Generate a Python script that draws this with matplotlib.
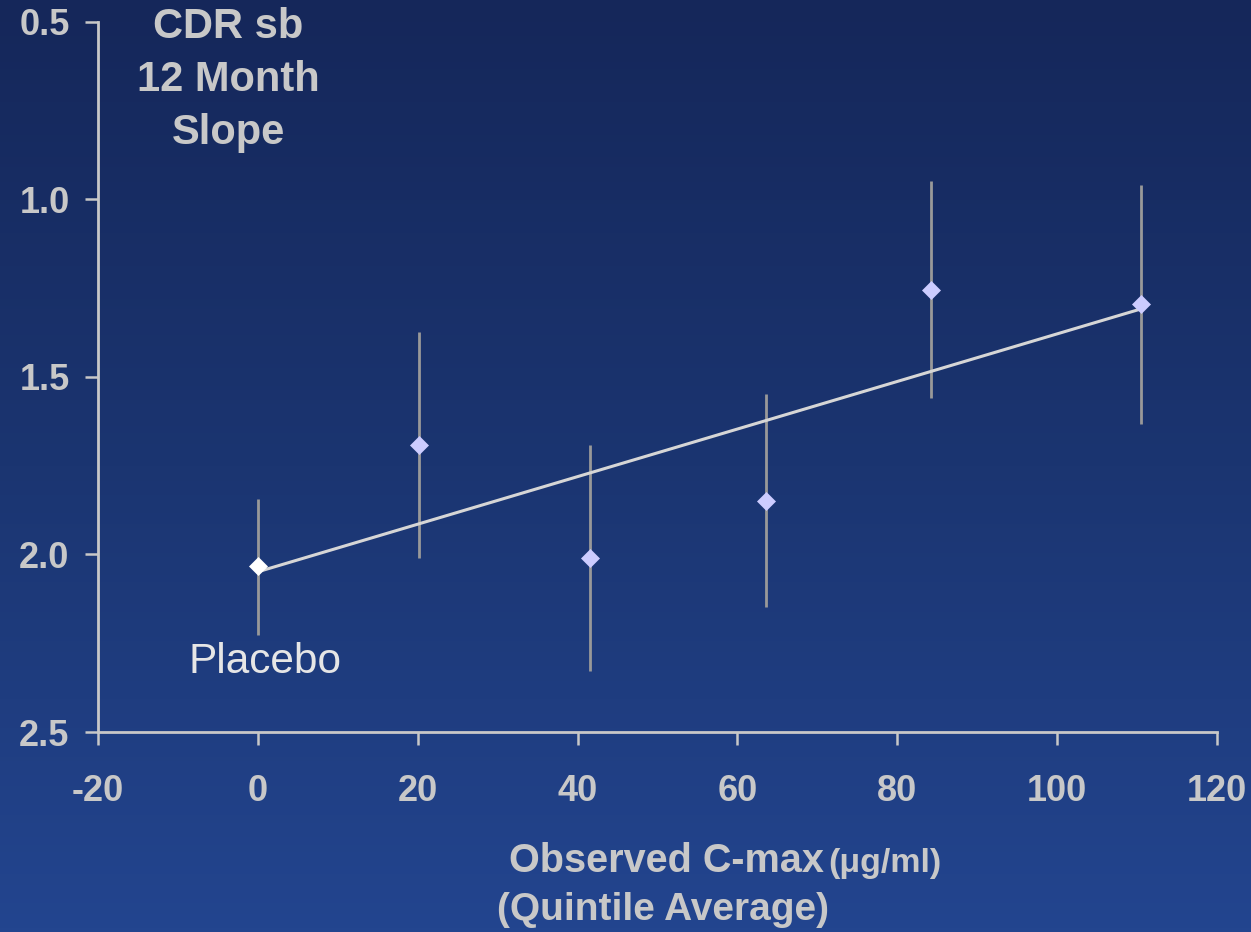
import matplotlib

matplotlib.use("Agg")
import matplotlib.pyplot as plt
import numpy as np
from matplotlib.colors import LinearSegmentedColormap

plt.rcParams["font.family"] = ["Liberation Sans", "DejaVu Sans"]

# quintile average C-max (ug/ml) and CDR sb 12-month slope
cmax = [0, 20.2, 41.6, 63.6, 84.2, 110.5]
slope = [2.033, 1.692, 2.010, 1.850, 1.256, 1.295]
err_low = [1.844, 1.374, 1.692, 1.549, 0.949, 0.960]
err_high = [2.227, 2.010, 2.327, 2.148, 1.560, 1.633]
trend_x = [0, 110.5]
trend_y = [2.049, 1.309]

x_ticks = [-20, 0, 20, 40, 60, 80, 100, 120]
y_ticks = [0.5, 1.0, 1.5, 2.0, 2.5]

TEXT = "#c8c8c8"
W, H = 1251, 932

fig = plt.figure(figsize=(W / 100, H / 100), dpi=100)

# background gradient, dark navy at the top to brighter blue at the bottom
bg = fig.add_axes([0, 0, 1, 1], zorder=-10)
cmap = LinearSegmentedColormap.from_list("bg", ["#15275a", "#1b3571", "#23458f"])
bg.imshow(np.linspace(0, 1, 256).reshape(-1, 1), aspect="auto", cmap=cmap,
          extent=[0, 1, 0, 1])
bg.axis("off")

ax = fig.add_axes([98 / W, 1 - 732 / H, (1217 - 98) / W, (732 - 21.5) / H])
ax.patch.set_alpha(0)

lower = np.array(slope) - np.array(err_low)
upper = np.array(err_high) - np.array(slope)
ax.errorbar(cmax, slope, yerr=[lower, upper], fmt="none", ecolor="#999999",
            elinewidth=2, capsize=0, zorder=2)
ax.plot(trend_x, trend_y, color="#d6d6d6", lw=2.2, zorder=3)
ax.plot(cmax[1:], slope[1:], "D", color="#ccccff", ms=9, mec="#ccccff", mew=0.5,
        zorder=4)
ax.plot(cmax[:1], slope[:1], "D", color="white", ms=9, mec="white", mew=0.5,
        zorder=4)

ax.set_xlim(-20, 120)
ax.set_ylim(2.5, 0.5)
ax.set_xticks(x_ticks)
ax.set_yticks(y_ticks)
ax.set_xticklabels([str(v) for v in x_ticks])
ax.set_yticklabels([f"{v:.1f}" for v in y_ticks])

for side in ["top", "right"]:
    ax.spines[side].set_visible(False)
for side in ["left", "bottom"]:
    ax.spines[side].set_color(TEXT)
    ax.spines[side].set_linewidth(2)

ax.tick_params(axis="both", colors=TEXT, length=9.5, width=1.8, direction="out",
               labelsize=26)
ax.tick_params(axis="x", pad=21)
ax.tick_params(axis="y", pad=11)
for lbl in ax.get_xticklabels() + ax.get_yticklabels():
    lbl.set_fontweight("bold")

fig.text(189 / W, 1 - 673 / H, "Placebo", color="#e6e6e6", fontsize=30.5,
         ha="left", va="baseline")

fig.text(228 / W, 1 - 80 / H, "CDR sb\n12 Month\nSlope", color=TEXT, fontsize=30,
         fontweight="bold", ha="center", va="center", multialignment="center",
         linespacing=1.42)

fig.text(509 / W, 1 - 872 / H, "Observed C-max", color=TEXT, fontsize=28.5,
         fontweight="bold", ha="left", va="baseline")
fig.text(828 / W, 1 - 872 / H, "(\u03bcg/ml)", color=TEXT, fontsize=24.5,
         fontweight="bold", ha="left", va="baseline")
fig.text(497 / W, 1 - 920 / H, "(Quintile Average)", color=TEXT, fontsize=28,
         fontweight="bold", ha="left", va="baseline")

fig.savefig("out.png", dpi=100)
